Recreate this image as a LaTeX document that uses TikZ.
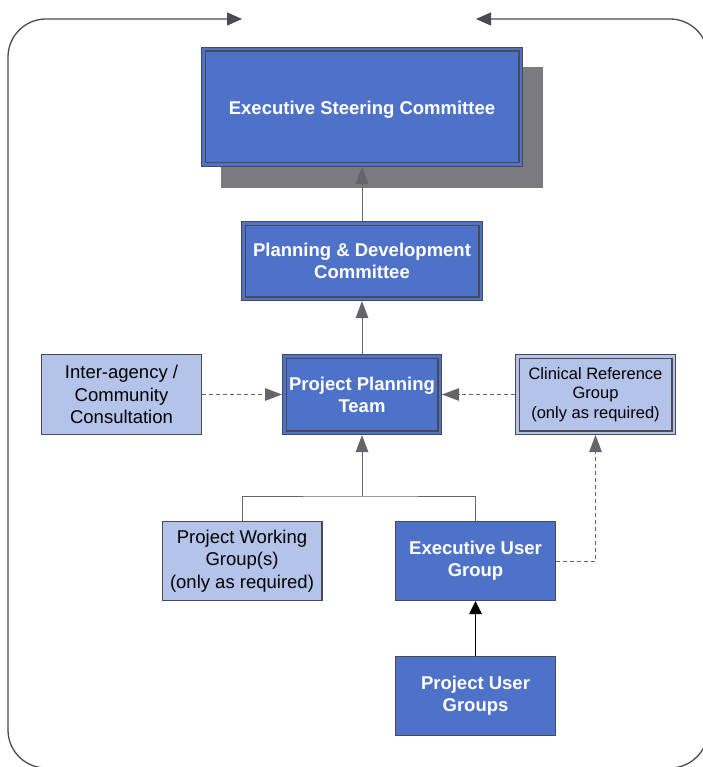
\documentclass[tikz,border=0pt]{standalone}
\usepackage{fontspec}
\setmainfont{Liberation Sans}
\usetikzlibrary{arrows.meta}

\definecolor{boxblue}{RGB}{79,114,201}
\definecolor{lightblue}{RGB}{180,195,234}
\definecolor{edgegray}{RGB}{74,74,84}
\definecolor{shadowgray}{RGB}{123,122,128}
\definecolor{linegray}{RGB}{100,100,108}

\tikzset{
  base/.style={rectangle, inner sep=0pt, align=center},
  dbl/.style={base, draw=edgegray, line width=1.1pt, double distance=2.4pt, outer sep=2.3pt},
  sgl/.style={base, draw=edgegray, line width=1.4pt},
  darktext/.style={text=white, font=\fontsize{18.5}{22}\selectfont\bfseries},
  lighttext/.style={text=black, font=\fontsize{18.5}{22.5}\selectfont},
  darkdbl/.style={dbl, fill=boxblue, double=boxblue, darktext},
  lightdbl/.style={dbl, fill=lightblue, double=lightblue, text=black, font=\fontsize{16.5}{19.5}\selectfont},
  darksgl/.style={sgl, fill=boxblue, darktext},
  lightsgl/.style={sgl, fill=lightblue, lighttext},
  arr/.style={-{Triangle[width=12.5pt,length=17pt]}},
  conn/.style={draw=linegray, line width=1pt, arr},
  plainconn/.style={draw=linegray, line width=1pt},
  dashconn/.style={draw=linegray, line width=1pt, dash pattern=on 4pt off 3pt, arr},
  frameline/.style={draw=edgegray, line width=1.3pt, rounded corners=38pt,
    {Triangle[width=13pt,length=15pt]}-{Triangle[width=13pt,length=15pt]}},
}

\begin{document}
\begin{tikzpicture}[x=1pt,y=-1pt]
\useasboundingbox (0,0) rectangle (702,767);

% outer frame
\coordinate (fl) at (242,19);
\coordinate (fr) at (476,19);
\draw[frameline] (fl) -- (8,19) -- (8,768) -- (708,768) -- (708,19) -- (fr);

% shadow
\node[base, fill=shadowgray, minimum width=322pt, minimum height=121pt] (shadow) at (382,127.5) {};

% boxes
\node[darkdbl, minimum width=317.4pt, minimum height=115.4pt, text height=16pt, text depth=0pt] (esc) at (362,107) {Executive Steering Committee};
\node[darkdbl, minimum width=237.4pt, minimum height=75.4pt] (pd) at (362,261) {Planning \& Development\\Committee};
\node[darkdbl, minimum width=155.4pt, minimum height=76.4pt] (ppt) at (362,394.5) {Project Planning\\Team};
\node[lightdbl, minimum width=156.4pt, minimum height=76.4pt] (crg) at (595.5,394.5) {Clinical Reference\\Group\\(only as required)};
\node[lightsgl, minimum width=159.6pt, minimum height=79.6pt] (ia) at (121.5,394.5) {Inter-agency /\\Community\\Consultation};
\node[lightsgl, minimum width=159.6pt, minimum height=78.6pt] (pwg) at (242,561) {Project Working\\Group(s)\\(only as required)};
\node[darksgl, minimum width=159.6pt, minimum height=78.6pt] (eug) at (475.5,561) {Executive User\\Group};
\node[darksgl, minimum width=159.6pt, minimum height=78.6pt] (pug) at (475.5,696) {Project User\\Groups};

% connectors
\draw[conn] (pd.north) -- (esc.south);
\draw[conn] (ppt.north) -- (pd.south);
\draw[dashconn] (ia.east) -- (ppt.west);
\draw[dashconn] (crg.west) -- (ppt.east);
\coordinate (junction) at (362,496);
\draw[plainconn] (pwg.north) |- (junction) -| (eug.north);
\draw[conn] (junction) -- (ppt.south);
\draw[dashconn] (eug.east) -| (crg.south);
\draw[conn, draw=black, fill=black, -{Triangle[width=12.5pt,length=13pt]}] (pug.north) -- (eug.south);
\end{tikzpicture}
\end{document}
